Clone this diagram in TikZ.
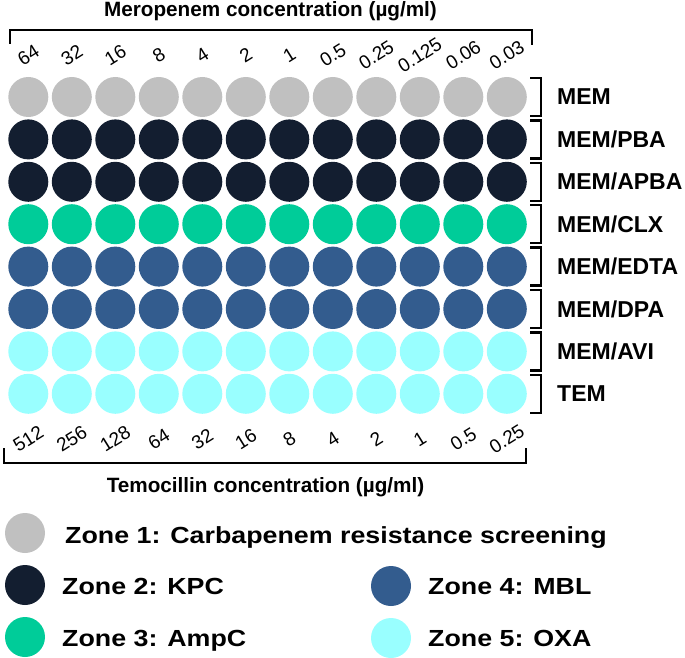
\documentclass[tikz,border=0pt]{standalone}
\usepackage{fontspec}
\setmainfont{Liberation Sans}
\newfontfamily\legfont[FakeStretch=1.15]{Liberation Sans}
\definecolor{zgray}{HTML}{C0C0C0}
\definecolor{znavy}{HTML}{131E30}
\definecolor{zgreen}{HTML}{00CC99}
\definecolor{zblue}{HTML}{335C8E}
\definecolor{zcyan}{HTML}{99FFFF}
\begin{document}
\begin{tikzpicture}[x=1pt,y=-1pt,
  well/.style={circle,minimum size=40pt,inner sep=0pt},
  conc/.style={font=\fontsize{19}{19}\selectfont, rotate=32, inner sep=0pt},
  rowlab/.style={font=\fontsize{23}{23}\selectfont\bfseries, anchor=base west, inner sep=0pt},
  axtitle/.style={font=\fontsize{20.7}{21}\selectfont\bfseries, anchor=base, inner sep=0pt},
  legtext/.style={font=\fontsize{23.3}{24}\legfont\bfseries, anchor=base west, inner sep=0pt},
  brk/.style={line width=2.4pt}]
\useasboundingbox (0,0) rectangle (685,658);

% wells
\foreach \col [count=\j from 0] in {zgray,znavy,znavy,zgreen,zblue,zblue,zcyan,zcyan}{
  \foreach \i in {0,...,11}{
    \node[well,fill=\col] (w-\j-\i) at ({28.3+43.5*\i},{97+42.4*\j}) {};
  }
}

% row brackets and labels
\foreach \lab [count=\j from 0] in {MEM,MEM/PBA,MEM/APBA,MEM/CLX,MEM/EDTA,MEM/DPA,MEM/AVI,TEM}{
  \pgfmathsetmacro\yy{97+42.4*\j}
  \draw[brk] (530,\yy-19) -- (541,\yy-19) -- (541,\yy+19) -- (530,\yy+19);
  \node[rowlab] (lab-\j) at (557,\yy+8) {\lab};
}

% top concentrations
\foreach \v [count=\i from 0] in {64,32,16,8,4,2,1,0.5,0.25,0.125,0.06,0.03}{
  \node[conc] (top-\i) at ({28.3+43.5*\i},55) {\v};
}
% bottom concentrations
\foreach \v [count=\i from 0] in {512,256,128,64,32,16,8,4,2,1,0.5,0.25}{
  \node[conc] (bot-\i) at ({28.3+43.5*\i},439) {\v};
}

% axis brackets
\draw[brk] (10,44) -- (10,30) -- (532,30) -- (532,45);
\draw[brk] (4,448) -- (4,463) -- (526,463) -- (526,448);

\node[axtitle] (toptitle) at (270.5,17) {Meropenem concentration (µg/ml)};
\node[axtitle] (bottitle) at (265.5,492) {Temocillin concentration (µg/ml)};

% legend
\node[well,fill=zgray] (lg1) at (25,533) {};
\node[well,fill=znavy] (lg2) at (25,585) {};
\node[well,fill=zgreen] (lg3) at (25,637) {};
\node[well,fill=zblue] (lg4) at (391,586) {};
\node[well,fill=zcyan] (lg5) at (391,638) {};
\node[legtext] (lt1) at (65,543) {Zone 1: Carbapenem resistance screening};
\node[legtext] (lt2) at (62,594) {Zone 2: KPC};
\node[legtext] (lt3) at (62,646) {Zone 3: AmpC};
\node[legtext] (lt4) at (428,594) {Zone 4: MBL};
\node[legtext] (lt5) at (428,646) {Zone 5: OXA};
\end{tikzpicture}
\end{document}
